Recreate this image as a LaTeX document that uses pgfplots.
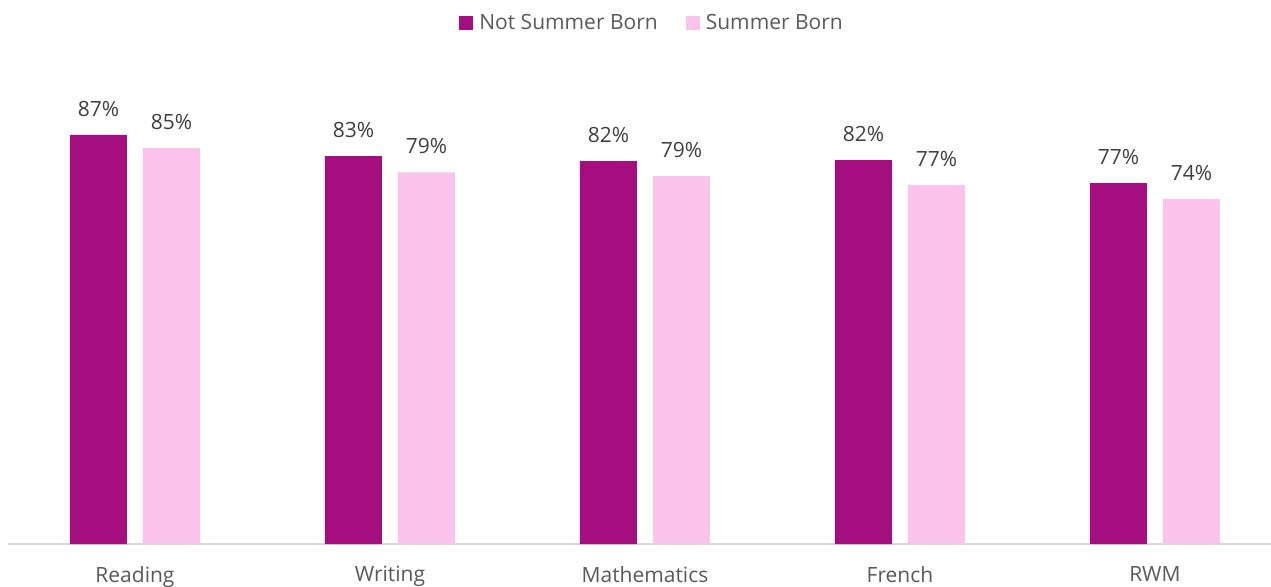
\documentclass[border=0pt]{standalone}
\usepackage{pgfplots}
\pgfplotsset{compat=1.18}
\usepackage{fontspec}
\setmainfont{Open Sans}
\definecolor{nsb}{HTML}{A50E7E}
\definecolor{sb}{HTML}{FAC3EC}
\definecolor{lbl}{HTML}{404040}
\definecolor{tck}{HTML}{595959}
\definecolor{axl}{HTML}{D9D9D9}
\begin{document}
\fontsize{21pt}{25pt}\selectfont
\begin{tikzpicture}[x=1pt,y=1pt]
\useasboundingbox (0,0) rectangle (1271,586);
\begin{axis}[
  at={(8pt,42pt)}, anchor=south west,
  scale only axis, width=1263pt, height=468pt,
  ymin=0, ymax=100, xmin=-0.498, xmax=4.455,
  ybar, bar width=57pt,
  axis x line*=bottom, axis y line=none,
  x axis line style={axl, line width=1.2pt, -},
  xtick={0,1,2,3,4},
  xticklabels={Reading,Writing,Mathematics,French,RWM},
  xtick style={draw=none},
  xticklabel style={text=tck, font=\fontsize{21pt}{25pt}\selectfont, yshift=-11pt},
  ytick=\empty,
  nodes near coords={\pgfmathprintnumber[fixed,precision=0,assume math mode=true]{\pgfplotspointmeta}\%},
  every node near coord/.append style={text=lbl, font=\fontsize{21pt}{25pt}\selectfont, inner sep=0pt, yshift=18pt, anchor=south},
  legend style={at={(0.51,1.113)}, anchor=center, draw=none, fill=none,
    legend columns=2, font=\fontsize{21pt}{25pt}\selectfont, text=tck,
    /tikz/every odd column/.append style={column sep=4pt},
    /tikz/every even column/.append style={column sep=26pt}},
  legend image code/.code={\fill[#1] (0pt,-7pt) rectangle (14pt,7pt);},
  clip=false,
]
\addplot[fill=nsb, draw=none, bar shift=-36.5pt] coordinates {(0,87.4) (1,82.9) (2,81.8) (3,82.05) (4,77.1)};
\addplot[fill=sb, draw=none, bar shift=36.5pt] coordinates {(0,84.6) (1,79.4) (2,78.6) (3,76.7) (4,73.7)};
\legend{Not Summer Born, Summer Born}
\end{axis}
\end{tikzpicture}
\end{document}
